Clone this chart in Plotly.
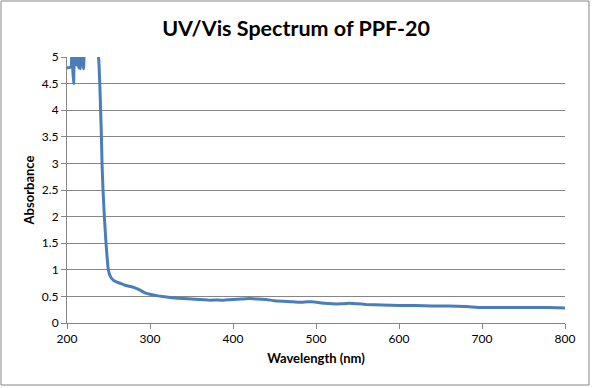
import plotly.graph_objects as go

wavelength = [200, 203, 205, 206, 207, 208, 209, 210, 211, 212, 213, 214, 215, 216, 217, 218, 219, 220, 221, 222,
              226, 230, 234, 237, 238, 239.5, 240.5, 241.5, 242.2, 243.4, 245, 247, 249.8, 252, 256, 260, 265, 270,
              275, 282, 285, 290, 295, 300, 310, 320, 330, 340, 350, 360, 370, 380, 390, 400, 410, 420, 430, 440,
              450, 460, 470, 480, 490, 495, 500, 510, 520, 530, 540, 550, 560, 580, 600, 620, 640, 660,
              680, 700, 720, 740, 760, 780, 800]
absorbance = [4.8, 4.8, 4.82, 5.2, 4.75, 4.5, 5.3, 4.85, 5.2, 4.85, 5.2, 4.8, 5.1, 4.78, 5.2, 4.85, 5.1, 4.78, 5.2, 5.3,
              5.4, 5.4, 5.3, 5.1, 5.0, 4.5, 4.0, 3.5, 3.0, 2.5, 2.0, 1.5, 1.0, 0.88, 0.8, 0.77, 0.74, 0.71,
              0.69, 0.66, 0.64, 0.6, 0.56, 0.54, 0.51, 0.49, 0.47, 0.46, 0.45, 0.44, 0.43, 0.43, 0.43, 0.44, 0.45, 0.46, 0.45, 0.44,
              0.42, 0.41, 0.40, 0.39, 0.40, 0.40, 0.39, 0.37, 0.36, 0.36, 0.37, 0.36, 0.35, 0.34, 0.33, 0.33, 0.32, 0.32,
              0.31, 0.29, 0.29, 0.29, 0.29, 0.29, 0.28]

x_ticks = [200, 300, 400, 500, 600, 700, 800]
y_ticks = [0, 0.5, 1, 1.5, 2, 2.5, 3, 3.5, 4, 4.5, 5]

font_family = "Lato, 'Open Sans', sans-serif"

fig = go.Figure()
fig.add_trace(go.Scatter(x=wavelength, y=absorbance, mode="lines",
                         line=dict(color="#4A7EBB", width=3, shape="spline", smoothing=0.3),
                         showlegend=False))

L, R, T, B = 67, 27, 57, 65
W, H = 592, 388
pw, ph = W - L - R, H - T - B

fig.update_layout(
    width=W, height=H,
    margin=dict(l=L, r=R, t=T, b=B, autoexpand=False),
    paper_bgcolor="white", plot_bgcolor="white",
    title=dict(text="<b>UV/Vis Spectrum of PPF-20</b>", x=0.5, xanchor="center",
               y=1 - 28 / H, yanchor="middle",
               font=dict(family=font_family, size=21.5, color="black")),
    font=dict(family=font_family, size=12, color="black"),
    xaxis=dict(range=[200, 800], tickvals=x_ticks, ticktext=[str(v) for v in x_ticks],
               showgrid=False, zeroline=False, showline=True, linecolor="#868686", linewidth=1,
               ticks="outside", ticklen=5, tickcolor="#868686", automargin=False,
               title=dict(text="<b>Wavelength (nm)</b>", font=dict(size=13), standoff=8)),
    yaxis=dict(range=[0, 5], tickvals=y_ticks, ticktext=[f"{v:g}" for v in y_ticks],
               showgrid=True, gridcolor="#868686", gridwidth=1, zeroline=False,
               showline=True, linecolor="#868686", linewidth=1,
               ticks="outside", ticklen=5, tickcolor="#868686", automargin=False,
               title=dict(text="<b>Absorbance</b>", font=dict(size=13), standoff=4)),
    shapes=[dict(type="rect", xref="paper", yref="paper",
                 x0=(1 - L) / pw, x1=(589 - L) / pw,
                 y0=(H - B - 385) / ph, y1=(H - B - 1) / ph,
                 line=dict(color="#868686", width=1), fillcolor="rgba(0,0,0,0)", layer="below")],
)

fig.write_html("out.html", config={"displayModeBar": False},
               post_script="document.body.style.margin='0';")
